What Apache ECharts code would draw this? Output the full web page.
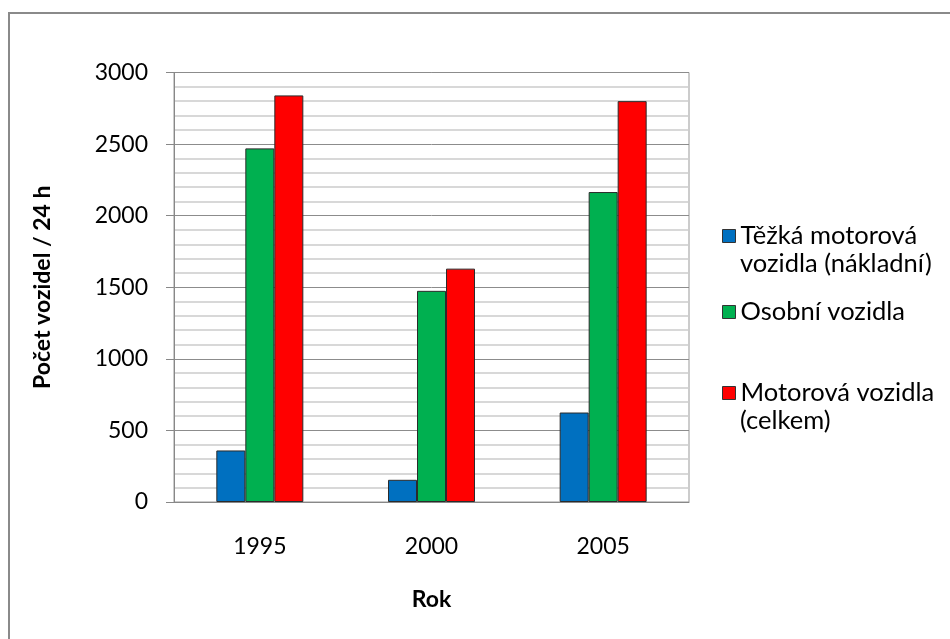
<!DOCTYPE html>
<html>
<head>
<meta charset="utf-8">
<script src="https://cdn.jsdelivr.net/npm/echarts@6/dist/echarts.min.js"></script>
<style>
  html, body { margin: 0; padding: 0; background: #fff; }
  #chart { width: 950px; height: 639px; }
</style>
</head>
<body>
<div id="chart"></div>
<script>
// Roky sčítání dopravy
const years = ['1995', '2000', '2005'];

// Intenzity dopravy (počet vozidel za 24 h)
const heavyVehicles = [360, 155, 625];
const passengerCars = [2470, 1475, 2165];
const allMotorVehicles = [2840, 1630, 2800];

const seriesNames = [
  'Těžká motorová vozidla (nákladní)',
  'Osobní vozidla',
  'Motorová vozidla (celkem)'
];
// První řádek popisku je v legendě, pokračování se vypisuje pod ním
const legendFirstLine = {
  'Těžká motorová vozidla (nákladní)': 'Těžká motorová',
  'Osobní vozidla': 'Osobní vozidla',
  'Motorová vozidla (celkem)': 'Motorová vozidla'
};
const legendSecondLine = ['vozidla (nákladní)', '', '(celkem)'];
const colors = ['#0070C0', '#00B050', '#FF0000'];

const yTicks = { min: 0, max: 3000, interval: 500 };

const font = 'Lato, "Open Sans", sans-serif';
const labelSize = 23;
const legendSize = 25.5;

const chart = echarts.init(document.getElementById('chart'), null, { renderer: 'canvas' });

// svislé středy prvních řádků položek legendy
const legendRows = [236, 312, 393];

function legendFor(name, centerY) {
  return {
    data: [name],
    orient: 'vertical',
    left: 722,
    top: centerY - 15,
    padding: 0,
    itemWidth: 13,
    itemHeight: 13,
    itemGap: 0,
    icon: 'rect',
    itemStyle: { borderColor: '#333', borderWidth: 1 },
    formatter: n => legendFirstLine[n],
    textStyle: { fontFamily: font, fontSize: legendSize, color: '#000', lineHeight: 30, padding: [0, 0, 0, 0] },
    selectedMode: false
  };
}

const values = [heavyVehicles, passengerCars, allMotorVehicles];

const secondLines = legendSecondLine
  .map((t, i) => ({ t, i }))
  .filter(o => o.t)
  .map(o => ({
    type: 'text',
    left: 740,
    top: legendRows[o.i] + 31 - 16,
    style: { text: o.t, font: legendSize + 'px ' + font, fill: '#000' },
    silent: true
  }));

chart.setOption({
  animation: false,
  backgroundColor: '#fff',
  graphic: [{
    type: 'rect',
    shape: { x: 9, y: 13, width: 960, height: 660 },
    style: { fill: 'none', stroke: '#8a8a8a', lineWidth: 2 },
    silent: true
  }].concat(secondLines),
  grid: {
    left: 174, top: 72.5, width: 515, height: 429.5,
    show: true, borderColor: '#999', borderWidth: 1, backgroundColor: 'transparent'
  },
  legend: seriesNames.map((n, i) => legendFor(n, legendRows[i])),
  xAxis: {
    type: 'category',
    data: years,
    name: 'Rok',
    nameLocation: 'middle',
    nameGap: 86,
    nameTextStyle: { fontFamily: font, fontSize: labelSize, fontWeight: 'bold', color: '#000' },
    axisLine: { lineStyle: { color: '#888', width: 1 } },
    axisTick: { show: false },
    axisLabel: { fontFamily: font, fontSize: labelSize, color: '#000', margin: 33 }
  },
  yAxis: {
    type: 'value',
    min: yTicks.min,
    max: yTicks.max,
    interval: yTicks.interval,
    name: 'Počet vozidel / 24 h',
    nameLocation: 'middle',
    nameGap: 120,
    nameTextStyle: { fontFamily: font, fontSize: labelSize, fontWeight: 'bold', color: '#000' },
    axisLine: { show: true, lineStyle: { color: '#888', width: 1 } },
    axisTick: { show: true, length: 8, lineStyle: { color: '#888' } },
    axisLabel: { fontFamily: font, fontSize: labelSize, color: '#000', margin: 26, formatter: v => String(v) },
    splitLine: { show: true, lineStyle: { color: '#8c8c8c', width: 1 } },
    minorTick: { show: false, splitNumber: 5 },
    minorSplitLine: { show: true, lineStyle: { color: '#cbcbcb', width: 1.5 } }
  },
  series: seriesNames.map((name, i) => ({
    name: name,
    type: 'bar',
    data: values[i],
    barWidth: 29,
    barGap: '0%',
    itemStyle: { color: colors[i], borderColor: '#2b2b2b', borderWidth: 1 }
  }))
});
</script>
</body>
</html>
